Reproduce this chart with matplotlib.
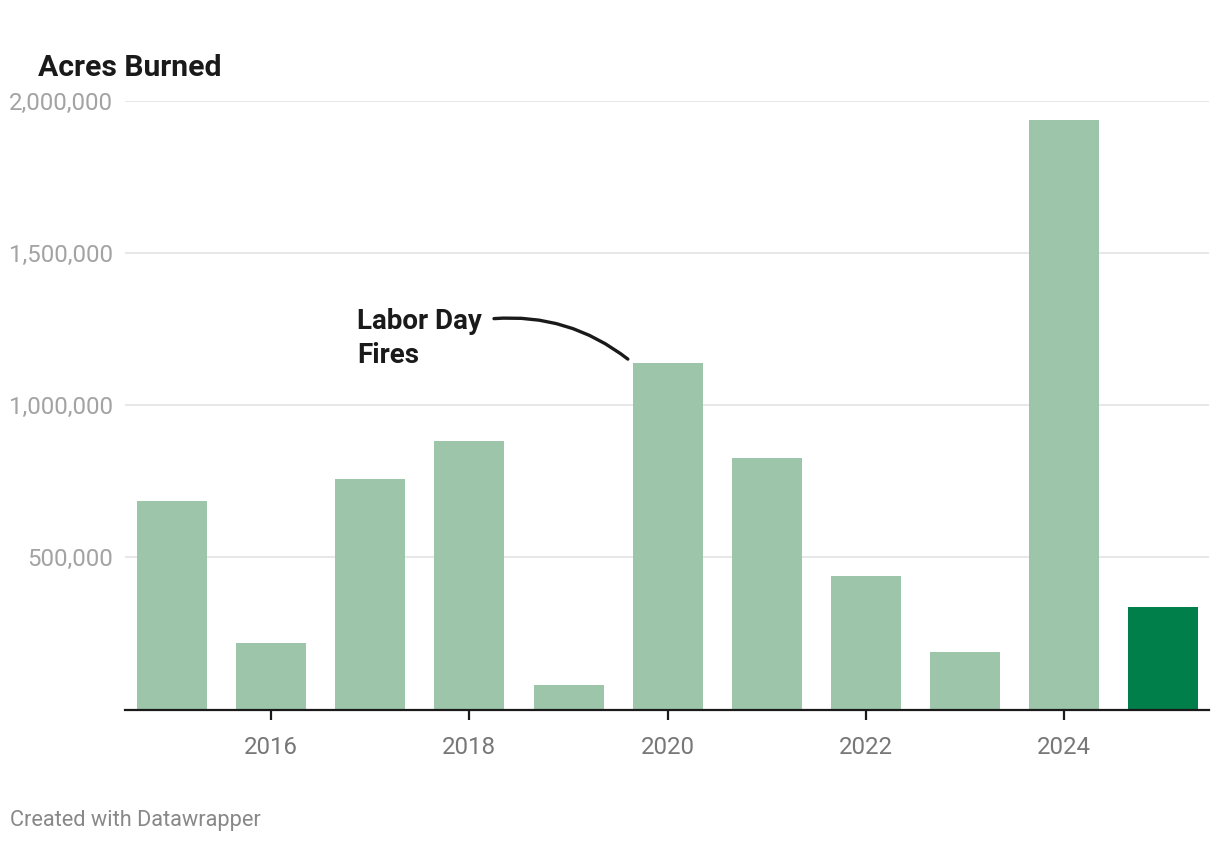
import matplotlib
matplotlib.use("Agg")
import matplotlib.pyplot as plt
from matplotlib.patches import FancyArrowPatch
from matplotlib.ticker import FuncFormatter

years = [2015, 2016, 2017, 2018, 2019, 2020, 2021, 2022, 2023, 2024, 2025]
acres = [686000, 220000, 759000, 883000, 79000, 1140000, 828000, 440000, 190000, 1938000, 338000]
tick_years = [2016, 2018, 2020, 2022, 2024]
y_ticks = [500000, 1000000, 1500000, 2000000]

light = "#9dc5aa"
dark = "#017f4b"
colors = [light] * (len(years) - 1) + [dark]

plt.rcParams['font.family'] = ['Roboto', 'DejaVu Sans']

fig = plt.figure(figsize=(12.2, 8.42), dpi=100)
ax = fig.add_axes([125 / 1220, (842 - 709.5) / 842, (1209 - 125) / 1220, (709.5 - 101) / 842])

ax.bar(years, acres, width=0.706, color=colors, zorder=2)

ax.set_xlim(2014.526, 2025.46)
ax.set_ylim(0, 2000000)

ax.set_yticks(y_ticks)
ax.yaxis.set_major_formatter(FuncFormatter(lambda v, p: f"{int(v):,}"))
ax.grid(axis="y", color="#e5e5e5", linewidth=1.3, zorder=0)
ax.tick_params(axis="y", length=0, pad=8.6, labelsize=17.3, labelcolor="#a3a3a3")

ax.set_xticks(tick_years)
ax.tick_params(axis="x", length=7.2, width=1.6, color="#1a1a1a", pad=12,
               labelsize=17.3, labelcolor="#777777")

for s in ["top", "right", "left"]:
    ax.spines[s].set_visible(False)
ax.spines["bottom"].set_color("#1a1a1a")
ax.spines["bottom"].set_linewidth(1.6)
ax.spines["bottom"].set_zorder(3)

# annotation
ax.text(2016.87, 1320000, "Labor Day\nFires", fontsize=20, fontweight="bold",
        color="#1a1a1a", ha="left", va="top", linespacing=1.32)
arc = FancyArrowPatch((2018.22, 1284000), (2019.62, 1146000),
                      connectionstyle="arc3,rad=-0.2", arrowstyle="-",
                      color="#1a1a1a", linewidth=2.4)
ax.add_patch(arc)

fig.text(38 / 1220, 1 - 76 / 842, "Acres Burned", fontsize=21.7, fontweight="bold",
         color="#1a1a1a", ha="left", va="baseline")
fig.text(10 / 1220, 1 - 826 / 842, "Created with Datawrapper", fontsize=15.7,
         color="#888888", ha="left", va="baseline")

fig.savefig("out.png", dpi=100, facecolor="white")
